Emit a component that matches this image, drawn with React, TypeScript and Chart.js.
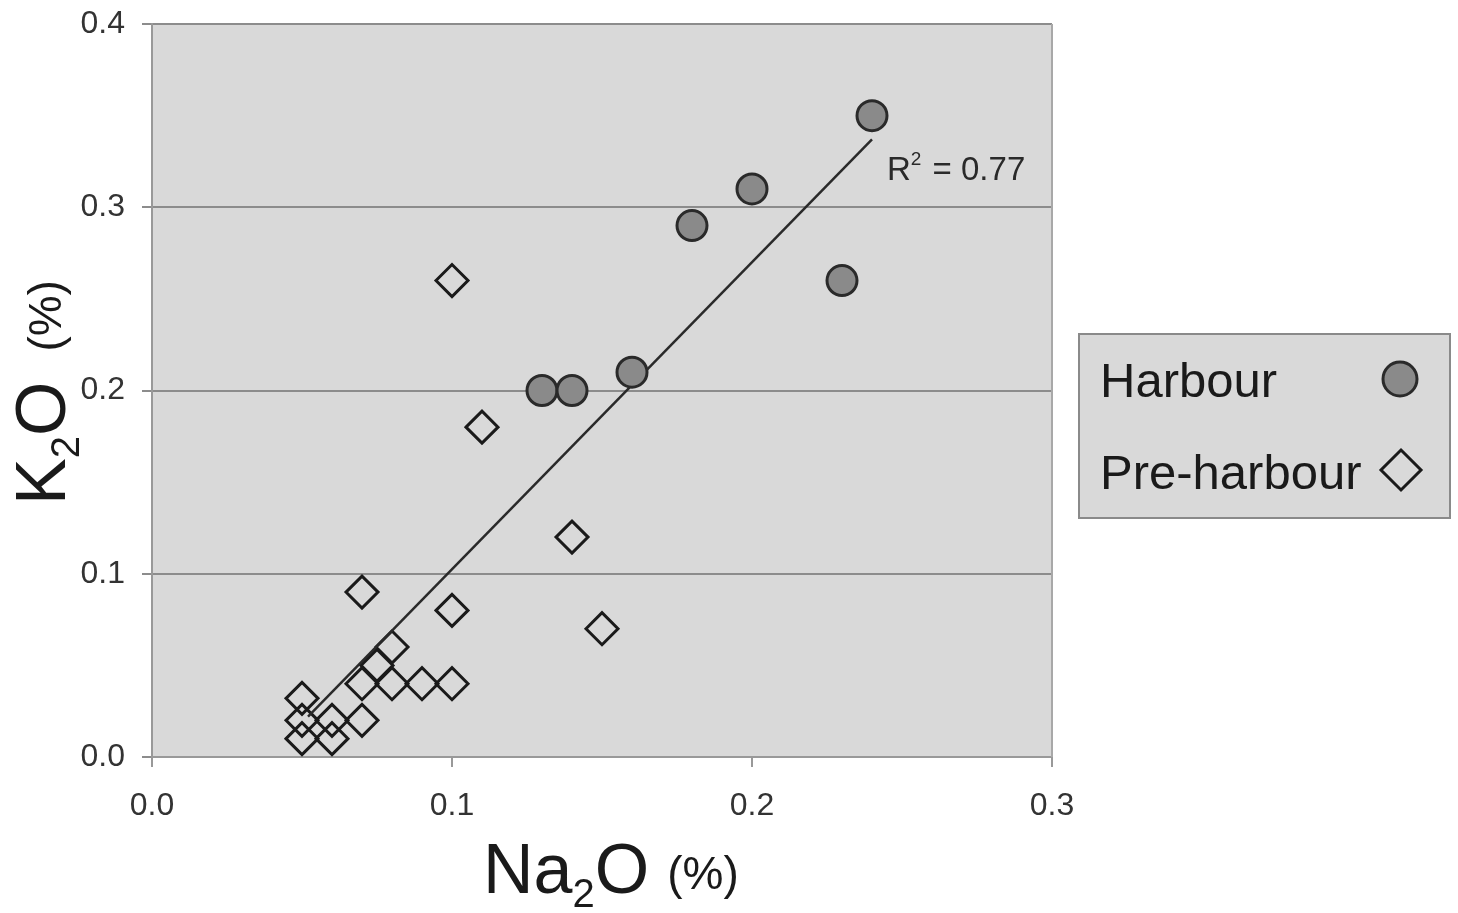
import React, { useEffect, useRef } from "react";
import { Chart, registerables } from "chart.js";

Chart.register(...registerables);

const harbourX = [0.24, 0.2, 0.18, 0.23, 0.16, 0.13, 0.14];
const harbourY = [0.35, 0.31, 0.29, 0.26, 0.21, 0.2, 0.2];

const preX = [0.1, 0.11, 0.14, 0.07, 0.1, 0.15, 0.08, 0.075, 0.07, 0.08, 0.09, 0.1, 0.05, 0.05, 0.05, 0.06, 0.06, 0.07];
const preY = [0.26, 0.18, 0.12, 0.09, 0.08, 0.07, 0.06, 0.05, 0.04, 0.04, 0.04, 0.04, 0.032, 0.02, 0.01, 0.02, 0.01, 0.02];

const trendX = [0.052, 0.24];
const trendY = [0.022, 0.337];

const xTicks = [0, 0.1, 0.2, 0.3];
const yTicks = [0, 0.1, 0.2, 0.3, 0.4];

const seriesNames = ["Harbour", "Pre-harbour"];
const r2Label = "0.77";

const FONT = "'Liberation Sans', Arial, sans-serif";

const zip = (xs: number[], ys: number[]) => xs.map((x, i) => ({ x, y: ys[i] }));

const decorPlugin = {
  id: "decor",
  beforeDraw(chart: any) {
    const { ctx, chartArea: a } = chart;
    ctx.save();
    ctx.fillStyle = "#d9d9d9";
    ctx.fillRect(a.left, a.top, a.right - a.left, a.bottom - a.top);
    ctx.restore();
  },
  afterDraw(chart: any) {
    const { ctx, chartArea: a } = chart;
    ctx.save();
    // right border
    ctx.strokeStyle = "#a8a8a8";
    ctx.lineWidth = 2;
    ctx.beginPath();
    ctx.moveTo(a.right, a.top);
    ctx.lineTo(a.right, a.bottom);
    ctx.stroke();

    ctx.fillStyle = "#1a1a1a";
    ctx.textBaseline = "alphabetic";
    ctx.textAlign = "left";

    // X title: Na2O (%)
    let x = 483;
    const by = 893;
    ctx.font = `70px ${FONT}`;
    ctx.fillText("Na", x, by);
    x += ctx.measureText("Na").width;
    ctx.font = `40px ${FONT}`;
    ctx.fillText("2", x, by + 14);
    x += ctx.measureText("2").width;
    ctx.font = `70px ${FONT}`;
    ctx.fillText("O", x, by);
    x += ctx.measureText("O").width + 18;
    ctx.font = `46px ${FONT}`;
    ctx.fillText("(%)", x, by - 4);

    // Y title: K2O (%)
    ctx.save();
    ctx.translate(65, 505);
    ctx.rotate(-Math.PI / 2);
    let t = 0;
    ctx.font = `70px ${FONT}`;
    ctx.fillText("K", t, 0);
    t += ctx.measureText("K").width;
    ctx.font = `40px ${FONT}`;
    ctx.fillText("2", t, 14);
    t += ctx.measureText("2").width;
    ctx.font = `70px ${FONT}`;
    ctx.fillText("O", t, 0);
    t += ctx.measureText("O").width + 30;
    ctx.font = `46px ${FONT}`;
    ctx.fillText("(%)", t, -4);
    ctx.restore();

    // R² label
    let rx = 887;
    const ry = 180;
    ctx.fillStyle = "#2a2a2a";
    ctx.font = `33px ${FONT}`;
    ctx.fillText("R", rx, ry);
    rx += ctx.measureText("R").width;
    ctx.font = `19px ${FONT}`;
    ctx.fillText("2", rx, ry - 15);
    rx += ctx.measureText("2").width + 2;
    ctx.font = `33px ${FONT}`;
    ctx.fillText(" = " + r2Label, rx, ry);

    // Legend
    ctx.fillStyle = "#d9d9d9";
    ctx.fillRect(1079, 334, 371, 184);
    ctx.strokeStyle = "#8a8a8a";
    ctx.lineWidth = 2;
    ctx.strokeRect(1079, 334, 371, 184);
    ctx.fillStyle = "#1a1a1a";
    ctx.font = `49px ${FONT}`;
    ctx.fillText(seriesNames[0], 1100, 397);
    ctx.fillText(seriesNames[1], 1100, 489);
    // circle
    ctx.beginPath();
    ctx.arc(1400, 379, 17, 0, Math.PI * 2);
    ctx.fillStyle = "#8a8a8a";
    ctx.fill();
    ctx.strokeStyle = "#2a2a2a";
    ctx.lineWidth = 3;
    ctx.stroke();
    // diamond
    ctx.beginPath();
    ctx.moveTo(1401, 450);
    ctx.lineTo(1421, 470);
    ctx.lineTo(1401, 490);
    ctx.lineTo(1381, 470);
    ctx.closePath();
    ctx.strokeStyle = "#1a1a1a";
    ctx.lineWidth = 3;
    ctx.stroke();
    ctx.restore();
  },
};

export default function App() {
  const ref = useRef<HTMLCanvasElement | null>(null);
  useEffect(() => {
    document.body.style.margin = "0";
    const canvas = ref.current!;
    const chart = new Chart(canvas, {
      type: "scatter",
      data: {
        datasets: [
          {
            label: "trend",
            data: zip(trendX, trendY),
            showLine: true,
            pointRadius: 0,
            borderColor: "#2a2a2a",
            borderWidth: 2.5,
            order: 1,
          },
          {
            label: seriesNames[1],
            data: zip(preX, preY),
            pointStyle: "rectRot",
            pointRadius: 16,
            backgroundColor: "rgba(0,0,0,0)",
            borderColor: "#1a1a1a",
            borderWidth: 3,
            order: 2,
          },
          {
            label: seriesNames[0],
            data: zip(harbourX, harbourY),
            pointStyle: "circle",
            pointRadius: 15,
            backgroundColor: "#8a8a8a",
            borderColor: "#2a2a2a",
            borderWidth: 3,
            order: 0,
          },
        ],
      },
      options: {
        responsive: false,
        devicePixelRatio: 1,
        animation: false,
        layout: { padding: { top: 24, right: 406, left: 0, bottom: 0 } },
        plugins: { legend: { display: false }, tooltip: { enabled: false } },
        scales: {
          x: {
            type: "linear",
            min: xTicks[0],
            max: xTicks[xTicks.length - 1],
            afterFit: (s: any) => {
              s.height = 156;
              s.paddingLeft = 0;
              s.paddingRight = 0;
            },
            afterBuildTicks: (s: any) => {
              s.ticks = xTicks.map((v) => ({ value: v }));
            },
            ticks: {
              callback: (v: any) => Number(v).toFixed(1),
              font: { size: 32, family: FONT },
              color: "#333",
              padding: 20,
              maxRotation: 0,
            },
            grid: { drawOnChartArea: false, tickLength: 10, color: "#999", lineWidth: 2 },
            border: { color: "#999", width: 2 },
          },
          y: {
            type: "linear",
            min: yTicks[0],
            max: yTicks[yTicks.length - 1],
            afterFit: (s: any) => {
              s.width = 152;
              s.paddingTop = 0;
              s.paddingBottom = 0;
            },
            afterBuildTicks: (s: any) => {
              s.ticks = yTicks.map((v) => ({ value: v }));
            },
            ticks: {
              callback: (v: any) => Number(v).toFixed(1),
              font: { size: 32, family: FONT },
              color: "#333",
              padding: 17,
            },
            grid: { tickLength: 10, color: "#8c8c8c", lineWidth: 2 },
            border: { color: "#999", width: 2 },
          },
        },
      },
      plugins: [decorPlugin],
    });
    return () => chart.destroy();
  }, []);
  return (
    <div style={{ width: 1458, height: 913, position: "relative" }}>
      <canvas ref={ref} width={1458} height={913} />
    </div>
  );
}
